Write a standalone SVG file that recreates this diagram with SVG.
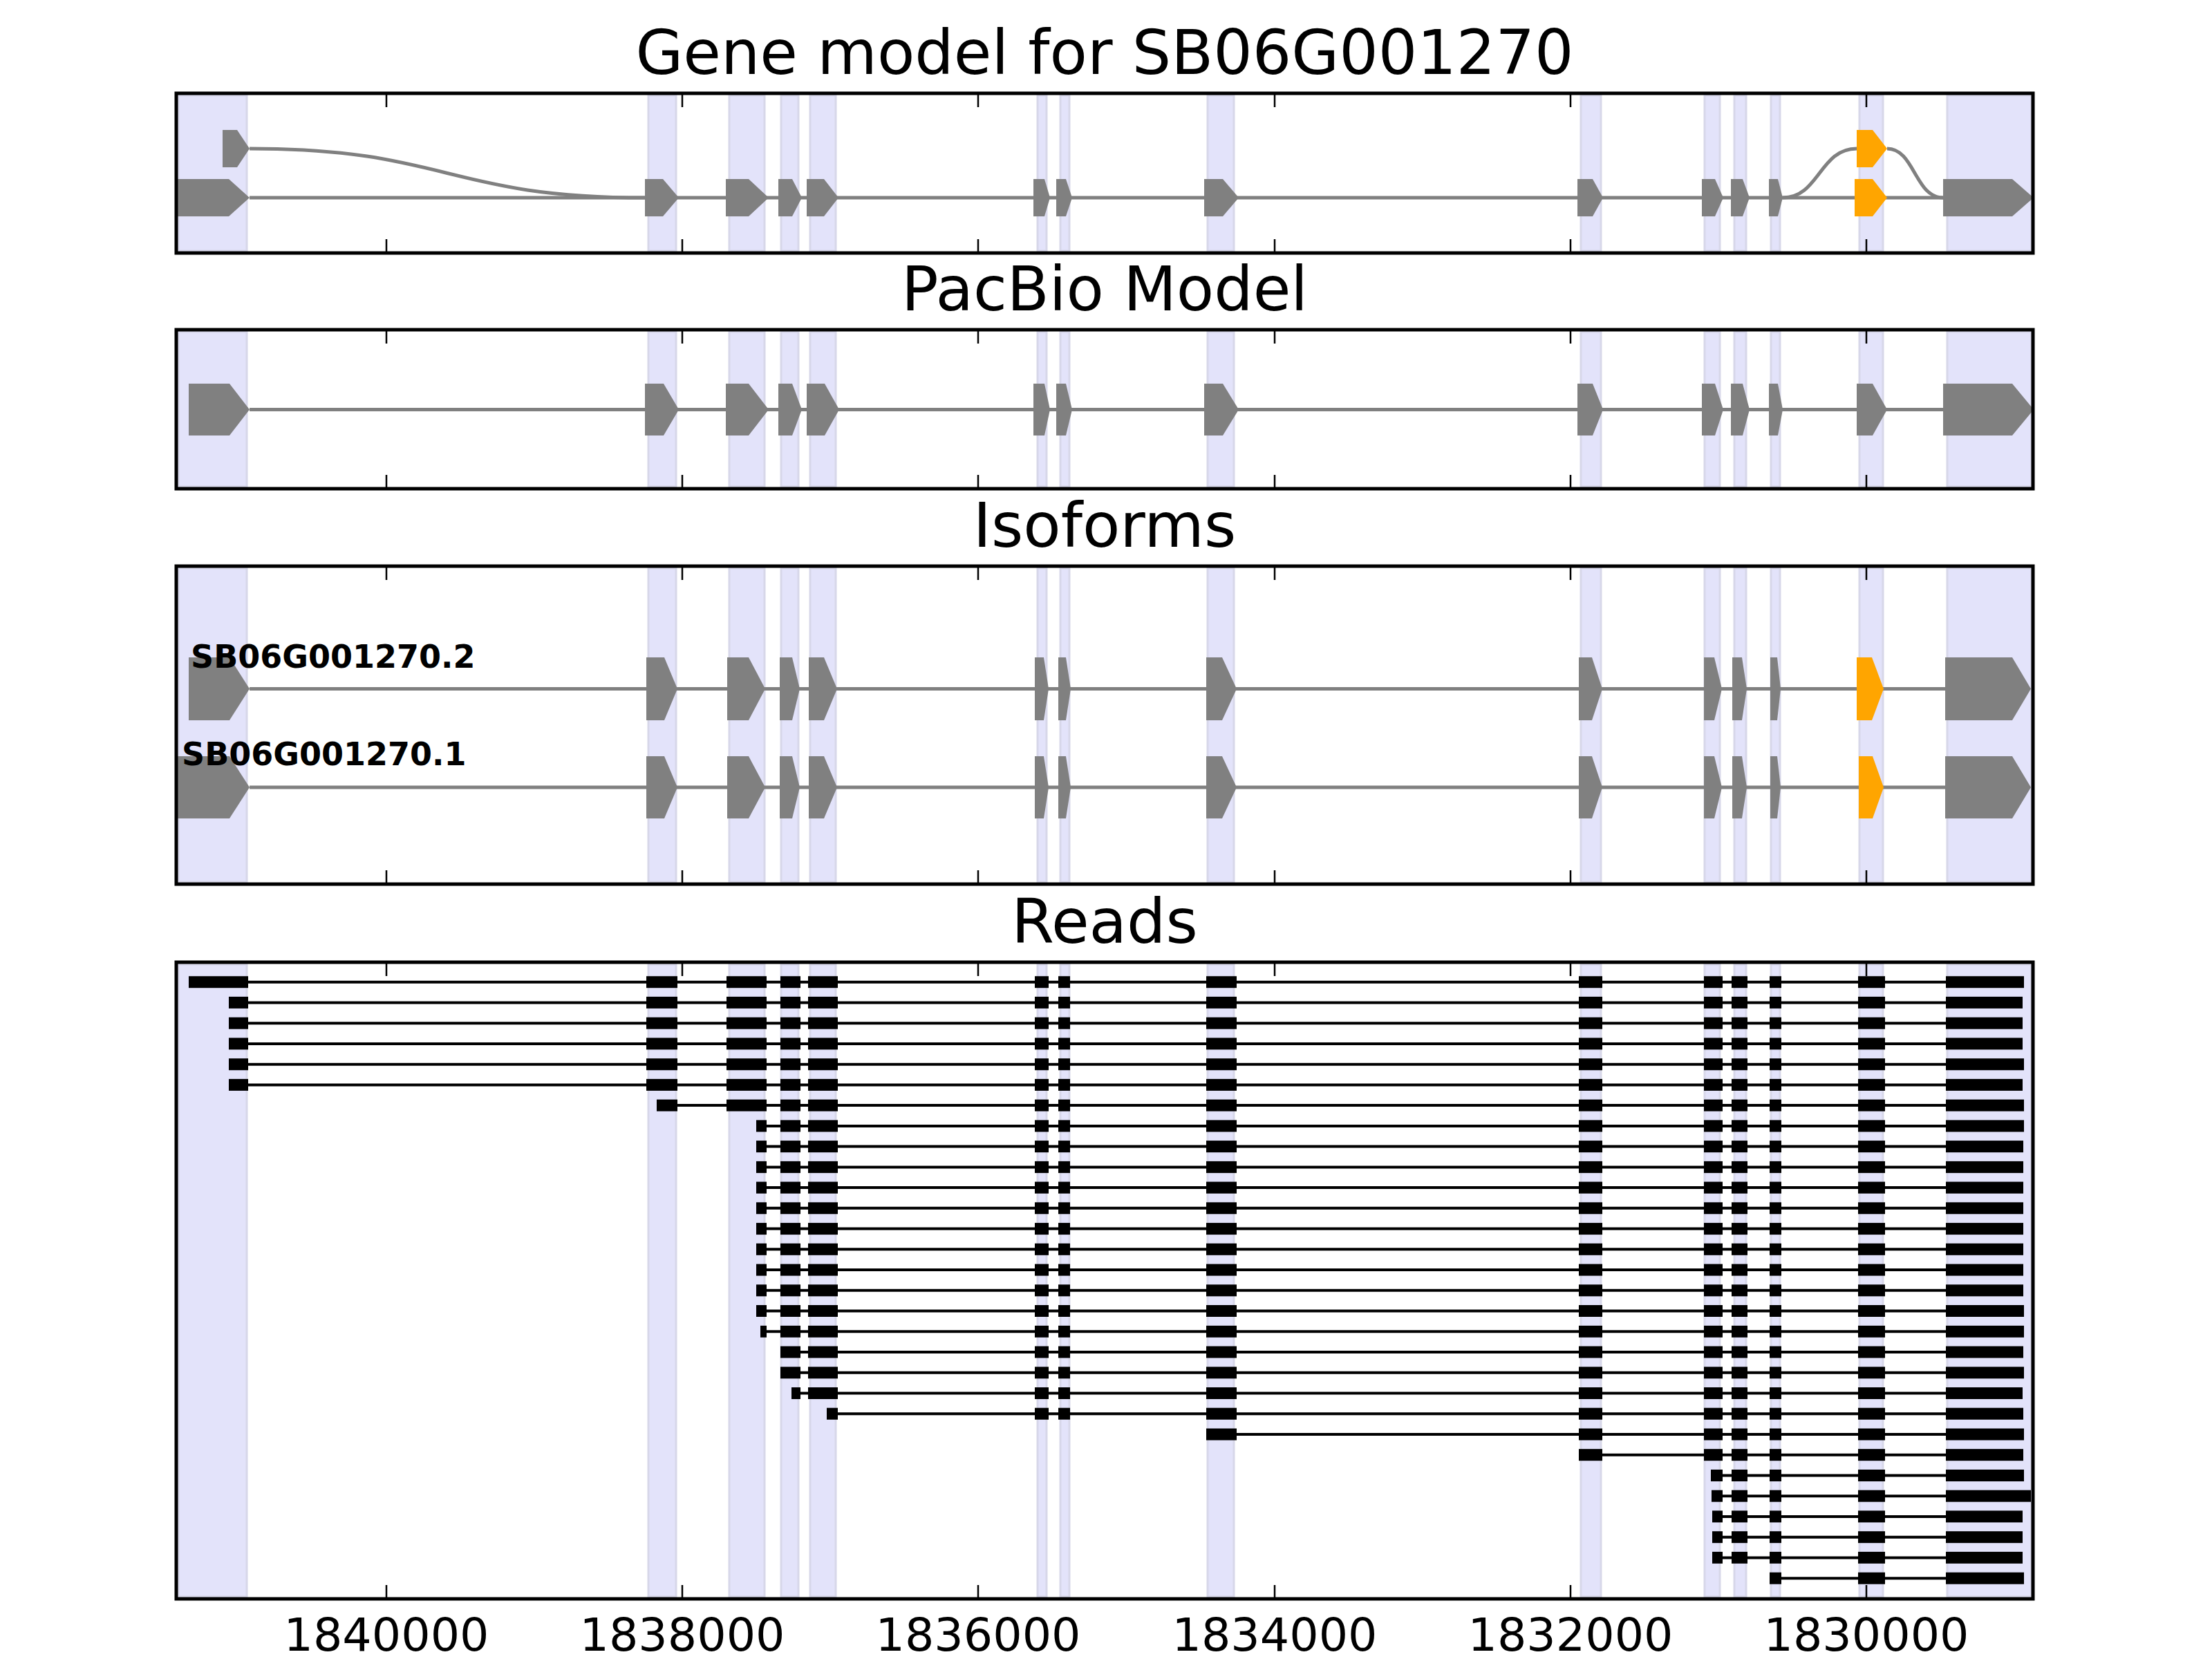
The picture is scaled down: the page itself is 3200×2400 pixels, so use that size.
<svg xmlns="http://www.w3.org/2000/svg" xmlns:xlink="http://www.w3.org/1999/xlink" width="3200" height="2400" viewBox="0 0 3200 2400">
<style>
.band rect{fill:#e3e3fa;stroke:#d7d7e9;stroke-width:3}
.ex{fill:#808080}
.exo{fill:#ffa500}
.intron{stroke:#808080;stroke-width:5;fill:none}
.rl{stroke:#000;stroke-width:4}
.rd{fill:#000}
.frame{fill:none;stroke:#000;stroke-width:5}
.tick{stroke:#000;stroke-width:2.5}
.title{font-family:"DejaVu Sans",sans-serif;font-size:88.9px;text-anchor:middle;fill:#000}
.lab{font-family:"DejaVu Sans",sans-serif;font-size:46px;font-weight:bold;fill:#000}
.tl{font-family:"DejaVu Sans",sans-serif;font-size:66.7px;text-anchor:middle;fill:#000}
</style>
<defs>
<clipPath id="c1"><rect x="255" y="135" width="2686" height="231"/></clipPath>
<clipPath id="c2"><rect x="255" y="477" width="2686" height="230"/></clipPath>
<clipPath id="c3"><rect x="255" y="819" width="2686" height="460"/></clipPath>
<rect id="x2" x="935" y="-8.5" width="45" height="17"/>
<rect id="x3" x="1051" y="-8.5" width="58" height="17"/>
<rect id="x4" x="1129" y="-8.5" width="29" height="17"/>
<rect id="x5" x="1169" y="-8.5" width="43" height="17"/>
<rect id="x6" x="1497" y="-8.5" width="20" height="17"/>
<rect id="x7" x="1531" y="-8.5" width="17" height="17"/>
<rect id="x8" x="1745" y="-8.5" width="44" height="17"/>
<rect id="x9" x="2284" y="-8.5" width="34" height="17"/>
<rect id="x10" x="2465" y="-8.5" width="27" height="17"/>
<rect id="x11" x="2505" y="-8.5" width="23" height="17"/>
<rect id="x12" x="2560" y="-8.5" width="17" height="17"/>
<rect id="x13" x="2688" y="-8.5" width="39" height="17"/>
<g id="t12"><use xlink:href="#x12"/><use xlink:href="#x13"/></g>
<g id="t11"><use xlink:href="#x11"/><use xlink:href="#t12"/></g>
<g id="t9"><use xlink:href="#x9"/><use xlink:href="#x10"/><use xlink:href="#t11"/></g>
<g id="t8"><use xlink:href="#x8"/><use xlink:href="#t9"/></g>
<g id="t6"><use xlink:href="#x6"/><use xlink:href="#x7"/><use xlink:href="#t8"/></g>
<g id="t5"><use xlink:href="#x5"/><use xlink:href="#t6"/></g>
<g id="t4"><use xlink:href="#x4"/><use xlink:href="#t5"/></g>
<g id="t3"><use xlink:href="#x3"/><use xlink:href="#t4"/></g>
<g id="t2"><use xlink:href="#x2"/><use xlink:href="#t3"/></g>
</defs>
<rect width="3200" height="2400" fill="#fff"/>

<!-- Panel 1: Gene model -->
<g id="panel-gene-model">
<g class="band">
<rect x="258" y="138" width="99" height="225"/><rect x="938" y="138" width="40" height="225"/><rect x="1055" y="138" width="51" height="225"/><rect x="1130" y="138" width="25" height="225"/><rect x="1172" y="138" width="37" height="225"/><rect x="1501" y="138" width="13" height="225"/><rect x="1534" y="138" width="13" height="225"/><rect x="1747" y="138" width="38" height="225"/><rect x="2287" y="138" width="29" height="225"/><rect x="2466" y="138" width="22" height="225"/><rect x="2509" y="138" width="17" height="225"/><rect x="2562" y="138" width="13" height="225"/><rect x="2690" y="138" width="34" height="225"/><rect x="2817" y="138" width="122" height="225"/>
</g>
<g id="gm-connectors" clip-path="url(#c1)">
<line class="intron" x1="361" y1="286" x2="2811" y2="286"/>
<path class="intron" d="M361,215 C647,215 647,286 933,286"/>
<path class="intron" d="M2579,286 C2632,286 2632,215 2686,215"/>
<path class="intron" d="M2730,215 C2770,215 2770,286 2811,286"/>
</g>
<g id="gm-exons" clip-path="url(#c1)">
<polygon class="ex" points="322,188 343,188 361,215 343,242 322,242"/>
<polygon class="exo" points="2686,188 2709,188 2730,215 2709,242 2686,242"/>
<polygon class="ex" points="250,259 331,259 361,286 331,313 250,313"/>
<polygon class="ex" points="933,259 959,259 982,286 959,313 933,313"/>
<polygon class="ex" points="1050,259 1083,259 1112,286 1083,313 1050,313"/>
<polygon class="ex" points="1126,259 1146,259 1160,286 1146,313 1126,313"/>
<polygon class="ex" points="1167,259 1192,259 1213,286 1192,313 1167,313"/>
<polygon class="ex" points="1495,259 1511,259 1519,286 1511,313 1495,313"/>
<polygon class="ex" points="1528,259 1542,259 1551,286 1542,313 1528,313"/>
<polygon class="ex" points="1742,259 1769,259 1792,286 1769,313 1742,313"/>
<polygon class="ex" points="2282,259 2304,259 2319,286 2304,313 2282,313"/>
<polygon class="ex" points="2462,259 2481,259 2493,286 2481,313 2462,313"/>
<polygon class="ex" points="2504,259 2521,259 2531,286 2521,313 2504,313"/>
<polygon class="ex" points="2559,259 2572,259 2579,286 2572,313 2559,313"/>
<polygon class="exo" points="2683,259 2709,259 2730,286 2709,313 2683,313"/>
<polygon class="ex" points="2811,259 2911,259 2942,286 2911,313 2811,313"/>
</g>
<rect class="frame" x="255" y="135" width="2686" height="231"/>
<path class="tick" d="M559,135v20M987,135v20M1415,135v20M1844,135v20M2272,135v20M2700,135v20M559,366v-20M987,366v-20M1415,366v-20M1844,366v-20M2272,366v-20M2700,366v-20"/>
<text class="title" x="1598" y="107">Gene model for SB06G001270</text>
</g>

<!-- Panel 2: PacBio Model -->
<g id="panel-pacbio">
<g class="band">
<rect x="258" y="480" width="99" height="224"/><rect x="938" y="480" width="40" height="224"/><rect x="1055" y="480" width="51" height="224"/><rect x="1130" y="480" width="25" height="224"/><rect x="1172" y="480" width="37" height="224"/><rect x="1501" y="480" width="13" height="224"/><rect x="1534" y="480" width="13" height="224"/><rect x="1747" y="480" width="38" height="224"/><rect x="2287" y="480" width="29" height="224"/><rect x="2466" y="480" width="22" height="224"/><rect x="2509" y="480" width="17" height="224"/><rect x="2562" y="480" width="13" height="224"/><rect x="2690" y="480" width="34" height="224"/><rect x="2817" y="480" width="122" height="224"/>
</g>
<g clip-path="url(#c2)">
<line class="intron" x1="361" y1="592.5" x2="2811" y2="592.5"/>
<polygon class="ex" points="273,555 332,555 361,592.5 332,630 273,630"/>
<polygon class="ex" points="933,555 960,555 982,592.5 960,630 933,630"/>
<polygon class="ex" points="1050,555 1083,555 1112,592.5 1083,630 1050,630"/>
<polygon class="ex" points="1126,555 1146,555 1160,592.5 1146,630 1126,630"/>
<polygon class="ex" points="1167,555 1193,555 1214,592.5 1193,630 1167,630"/>
<polygon class="ex" points="1495,555 1511,555 1519,592.5 1511,630 1495,630"/>
<polygon class="ex" points="1528,555 1542,555 1551,592.5 1542,630 1528,630"/>
<polygon class="ex" points="1742,555 1769,555 1792,592.5 1769,630 1742,630"/>
<polygon class="ex" points="2282,555 2304,555 2319,592.5 2304,630 2282,630"/>
<polygon class="ex" points="2462,555 2481,555 2493,592.5 2481,630 2462,630"/>
<polygon class="ex" points="2504,555 2521,555 2531,592.5 2521,630 2504,630"/>
<polygon class="ex" points="2559,555 2572,555 2579,592.5 2572,630 2559,630"/>
<polygon class="ex" points="2686,555 2709,555 2730,592.5 2709,630 2686,630"/>
<polygon class="ex" points="2811,555 2911,555 2942,592.5 2911,630 2811,630"/>
</g>
<rect class="frame" x="255" y="477" width="2686" height="230"/>
<path class="tick" d="M559,477v20M987,477v20M1415,477v20M1844,477v20M2272,477v20M2700,477v20M559,707v-20M987,707v-20M1415,707v-20M1844,707v-20M2272,707v-20M2700,707v-20"/>
<text class="title" x="1598" y="449">PacBio Model</text>
</g>

<!-- Panel 3: Isoforms -->
<g id="panel-isoforms">
<g class="band">
<rect x="258" y="822" width="99" height="454"/><rect x="938" y="822" width="40" height="454"/><rect x="1055" y="822" width="51" height="454"/><rect x="1130" y="822" width="25" height="454"/><rect x="1172" y="822" width="37" height="454"/><rect x="1501" y="822" width="13" height="454"/><rect x="1534" y="822" width="13" height="454"/><rect x="1747" y="822" width="38" height="454"/><rect x="2287" y="822" width="29" height="454"/><rect x="2466" y="822" width="22" height="454"/><rect x="2509" y="822" width="17" height="454"/><rect x="2562" y="822" width="13" height="454"/><rect x="2690" y="822" width="34" height="454"/><rect x="2817" y="822" width="122" height="454"/>
</g>
<g id="iso-2" clip-path="url(#c3)">
<line class="intron" x1="361" y1="996.5" x2="2814" y2="996.5"/>
<polygon class="ex" points="273,951 332,951 361,996.5 332,1042 273,1042"/>
<polygon class="ex" points="935,951 961,951 980,996.5 961,1042 935,1042"/>
<polygon class="ex" points="1052,951 1083,951 1107,996.5 1083,1042 1052,1042"/>
<polygon class="ex" points="1128,951 1146,951 1157,996.5 1146,1042 1128,1042"/>
<polygon class="ex" points="1170,951 1192,951 1211,996.5 1192,1042 1170,1042"/>
<polygon class="ex" points="1497,951 1510,951 1517,996.5 1510,1042 1497,1042"/>
<polygon class="ex" points="1531,951 1542,951 1549,996.5 1542,1042 1531,1042"/>
<polygon class="ex" points="1745,951 1768,951 1789,996.5 1768,1042 1745,1042"/>
<polygon class="ex" points="2284,951 2303,951 2318,996.5 2303,1042 2284,1042"/>
<polygon class="ex" points="2465,951 2480,951 2491,996.5 2480,1042 2465,1042"/>
<polygon class="ex" points="2506,951 2520,951 2527,996.5 2520,1042 2506,1042"/>
<polygon class="ex" points="2561,951 2571,951 2576,996.5 2571,1042 2561,1042"/>
<polygon class="exo" points="2686,951 2708,951 2725,996.5 2708,1042 2686,1042"/>
<polygon class="ex" points="2814,951 2911,951 2938,996.5 2911,1042 2814,1042"/>
<text class="lab" x="276" y="966">SB06G001270.2</text>
</g>
<g id="iso-1" clip-path="url(#c3)">
<line class="intron" x1="361" y1="1139" x2="2814" y2="1139"/>
<polygon class="ex" points="250,1094 332,1094 361,1139 332,1184 250,1184"/>
<polygon class="ex" points="935,1094 961,1094 980,1139 961,1184 935,1184"/>
<polygon class="ex" points="1052,1094 1083,1094 1107,1139 1083,1184 1052,1184"/>
<polygon class="ex" points="1128,1094 1146,1094 1157,1139 1146,1184 1128,1184"/>
<polygon class="ex" points="1170,1094 1192,1094 1211,1139 1192,1184 1170,1184"/>
<polygon class="ex" points="1497,1094 1510,1094 1517,1139 1510,1184 1497,1184"/>
<polygon class="ex" points="1531,1094 1542,1094 1549,1139 1542,1184 1531,1184"/>
<polygon class="ex" points="1745,1094 1768,1094 1789,1139 1768,1184 1745,1184"/>
<polygon class="ex" points="2284,1094 2303,1094 2318,1139 2303,1184 2284,1184"/>
<polygon class="ex" points="2465,1094 2480,1094 2491,1139 2480,1184 2465,1184"/>
<polygon class="ex" points="2506,1094 2520,1094 2527,1139 2520,1184 2506,1184"/>
<polygon class="ex" points="2561,1094 2571,1094 2576,1139 2571,1184 2561,1184"/>
<polygon class="exo" points="2689,1094 2709,1094 2725,1139 2709,1184 2689,1184"/>
<polygon class="ex" points="2814,1094 2911,1094 2938,1139 2911,1184 2814,1184"/>
<text class="lab" x="263" y="1107">SB06G001270.1</text>
</g>
<rect class="frame" x="255" y="819" width="2686" height="460"/>
<path class="tick" d="M559,819v20M987,819v20M1415,819v20M1844,819v20M2272,819v20M2700,819v20M559,1279v-20M987,1279v-20M1415,1279v-20M1844,1279v-20M2272,1279v-20M2700,1279v-20"/>
<text class="title" x="1598" y="791">Isoforms</text>
</g>

<!-- Panel 4: Reads -->
<g id="panel-reads">
<g class="band">
<rect x="258" y="1395" width="99" height="915"/><rect x="938" y="1395" width="40" height="915"/><rect x="1055" y="1395" width="51" height="915"/><rect x="1130" y="1395" width="25" height="915"/><rect x="1172" y="1395" width="37" height="915"/><rect x="1501" y="1395" width="13" height="915"/><rect x="1534" y="1395" width="13" height="915"/><rect x="1747" y="1395" width="38" height="915"/><rect x="2287" y="1395" width="29" height="915"/><rect x="2466" y="1395" width="22" height="915"/><rect x="2509" y="1395" width="17" height="915"/><rect x="2562" y="1395" width="13" height="915"/><rect x="2690" y="1395" width="34" height="915"/><rect x="2817" y="1395" width="122" height="915"/>
</g>
<g id="reads" class="rd">
<g id="read-1" transform="translate(0,1420.7)"><line class="rl" x1="273" y1="0" x2="2928" y2="0"/><rect x="273" y="-8.5" width="86" height="17"/><use xlink:href="#t2"/><rect x="2815" y="-8.5" width="113" height="17"/></g>
<g id="read-2" transform="translate(0,1450.4)"><line class="rl" x1="331" y1="0" x2="2926" y2="0"/><rect x="331" y="-8.5" width="28" height="17"/><use xlink:href="#t2"/><rect x="2815" y="-8.5" width="111" height="17"/></g>
<g id="read-3" transform="translate(0,1480.2)"><line class="rl" x1="331" y1="0" x2="2926" y2="0"/><rect x="331" y="-8.5" width="28" height="17"/><use xlink:href="#t2"/><rect x="2815" y="-8.5" width="111" height="17"/></g>
<g id="read-4" transform="translate(0,1509.9)"><line class="rl" x1="331" y1="0" x2="2926" y2="0"/><rect x="331" y="-8.5" width="28" height="17"/><use xlink:href="#t2"/><rect x="2815" y="-8.5" width="111" height="17"/></g>
<g id="read-5" transform="translate(0,1539.7)"><line class="rl" x1="331" y1="0" x2="2928" y2="0"/><rect x="331" y="-8.5" width="28" height="17"/><use xlink:href="#t2"/><rect x="2815" y="-8.5" width="113" height="17"/></g>
<g id="read-6" transform="translate(0,1569.4)"><line class="rl" x1="331" y1="0" x2="2926" y2="0"/><rect x="331" y="-8.5" width="28" height="17"/><use xlink:href="#t2"/><rect x="2815" y="-8.5" width="111" height="17"/></g>
<g id="read-7" transform="translate(0,1599.1)"><line class="rl" x1="950" y1="0" x2="2928" y2="0"/><rect x="950" y="-8.5" width="30" height="17"/><use xlink:href="#t3"/><rect x="2815" y="-8.5" width="113" height="17"/></g>
<g id="read-8" transform="translate(0,1628.9)"><line class="rl" x1="1094" y1="0" x2="2928" y2="0"/><rect x="1094" y="-8.5" width="15" height="17"/><use xlink:href="#t4"/><rect x="2815" y="-8.5" width="113" height="17"/></g>
<g id="read-9" transform="translate(0,1658.6)"><line class="rl" x1="1094" y1="0" x2="2927" y2="0"/><rect x="1094" y="-8.5" width="15" height="17"/><use xlink:href="#t4"/><rect x="2815" y="-8.5" width="112" height="17"/></g>
<g id="read-10" transform="translate(0,1688.4)"><line class="rl" x1="1094" y1="0" x2="2927" y2="0"/><rect x="1094" y="-8.5" width="15" height="17"/><use xlink:href="#t4"/><rect x="2815" y="-8.5" width="112" height="17"/></g>
<g id="read-11" transform="translate(0,1718.1)"><line class="rl" x1="1094" y1="0" x2="2927" y2="0"/><rect x="1094" y="-8.5" width="15" height="17"/><use xlink:href="#t4"/><rect x="2815" y="-8.5" width="112" height="17"/></g>
<g id="read-12" transform="translate(0,1747.8)"><line class="rl" x1="1094" y1="0" x2="2927" y2="0"/><rect x="1094" y="-8.5" width="15" height="17"/><use xlink:href="#t4"/><rect x="2815" y="-8.5" width="112" height="17"/></g>
<g id="read-13" transform="translate(0,1777.6)"><line class="rl" x1="1094" y1="0" x2="2927" y2="0"/><rect x="1094" y="-8.5" width="15" height="17"/><use xlink:href="#t4"/><rect x="2815" y="-8.5" width="112" height="17"/></g>
<g id="read-14" transform="translate(0,1807.3)"><line class="rl" x1="1094" y1="0" x2="2927" y2="0"/><rect x="1094" y="-8.5" width="15" height="17"/><use xlink:href="#t4"/><rect x="2815" y="-8.5" width="112" height="17"/></g>
<g id="read-15" transform="translate(0,1837.1)"><line class="rl" x1="1094" y1="0" x2="2927" y2="0"/><rect x="1094" y="-8.5" width="15" height="17"/><use xlink:href="#t4"/><rect x="2815" y="-8.5" width="112" height="17"/></g>
<g id="read-16" transform="translate(0,1866.8)"><line class="rl" x1="1094" y1="0" x2="2927" y2="0"/><rect x="1094" y="-8.5" width="15" height="17"/><use xlink:href="#t4"/><rect x="2815" y="-8.5" width="112" height="17"/></g>
<g id="read-17" transform="translate(0,1896.5)"><line class="rl" x1="1094" y1="0" x2="2928" y2="0"/><rect x="1094" y="-8.5" width="15" height="17"/><use xlink:href="#t4"/><rect x="2815" y="-8.5" width="113" height="17"/></g>
<g id="read-18" transform="translate(0,1926.3)"><line class="rl" x1="1100" y1="0" x2="2928" y2="0"/><rect x="1100" y="-8.5" width="9" height="17"/><use xlink:href="#t4"/><rect x="2815" y="-8.5" width="113" height="17"/></g>
<g id="read-19" transform="translate(0,1956.0)"><line class="rl" x1="1129" y1="0" x2="2927" y2="0"/><use xlink:href="#t4"/><rect x="2815" y="-8.5" width="112" height="17"/></g>
<g id="read-20" transform="translate(0,1985.8)"><line class="rl" x1="1129" y1="0" x2="2928" y2="0"/><use xlink:href="#t4"/><rect x="2815" y="-8.5" width="113" height="17"/></g>
<g id="read-21" transform="translate(0,2015.5)"><line class="rl" x1="1145" y1="0" x2="2926" y2="0"/><rect x="1145" y="-8.5" width="13" height="17"/><use xlink:href="#t5"/><rect x="2815" y="-8.5" width="111" height="17"/></g>
<g id="read-22" transform="translate(0,2045.2)"><line class="rl" x1="1196" y1="0" x2="2927" y2="0"/><rect x="1196" y="-8.5" width="16" height="17"/><use xlink:href="#t6"/><rect x="2815" y="-8.5" width="112" height="17"/></g>
<g id="read-23" transform="translate(0,2075.0)"><line class="rl" x1="1745" y1="0" x2="2928" y2="0"/><use xlink:href="#t8"/><rect x="2815" y="-8.5" width="113" height="17"/></g>
<g id="read-24" transform="translate(0,2104.7)"><line class="rl" x1="2285" y1="0" x2="2927" y2="0"/><use xlink:href="#t9"/><rect x="2815" y="-8.5" width="112" height="17"/></g>
<g id="read-25" transform="translate(0,2134.5)"><line class="rl" x1="2475" y1="0" x2="2928" y2="0"/><rect x="2475" y="-8.5" width="17" height="17"/><use xlink:href="#t11"/><rect x="2815" y="-8.5" width="113" height="17"/></g>
<g id="read-26" transform="translate(0,2164.2)"><line class="rl" x1="2476" y1="0" x2="2938" y2="0"/><rect x="2476" y="-8.5" width="16" height="17"/><use xlink:href="#t11"/><rect x="2815" y="-8.5" width="123" height="17"/></g>
<g id="read-27" transform="translate(0,2193.9)"><line class="rl" x1="2477" y1="0" x2="2926" y2="0"/><rect x="2477" y="-8.5" width="15" height="17"/><use xlink:href="#t11"/><rect x="2815" y="-8.5" width="111" height="17"/></g>
<g id="read-28" transform="translate(0,2223.7)"><line class="rl" x1="2477" y1="0" x2="2926" y2="0"/><rect x="2477" y="-8.5" width="15" height="17"/><use xlink:href="#t11"/><rect x="2815" y="-8.5" width="111" height="17"/></g>
<g id="read-29" transform="translate(0,2253.4)"><line class="rl" x1="2477" y1="0" x2="2926" y2="0"/><rect x="2477" y="-8.5" width="15" height="17"/><use xlink:href="#t11"/><rect x="2815" y="-8.5" width="111" height="17"/></g>
<g id="read-30" transform="translate(0,2283.2)"><line class="rl" x1="2560" y1="0" x2="2928" y2="0"/><use xlink:href="#t12"/><rect x="2815" y="-8.5" width="113" height="17"/></g>
</g>
<rect class="frame" x="255" y="1392" width="2686" height="921"/>
<path class="tick" d="M559,1392v20M987,1392v20M1415,1392v20M1844,1392v20M2272,1392v20M2700,1392v20M559,2313v-20M987,2313v-20M1415,2313v-20M1844,2313v-20M2272,2313v-20M2700,2313v-20"/>
<text class="title" x="1598" y="1364">Reads</text>
<g id="x-axis-labels">
<text class="tl" x="559" y="2388">1840000</text>
<text class="tl" x="987" y="2388">1838000</text>
<text class="tl" x="1415" y="2388">1836000</text>
<text class="tl" x="1844" y="2388">1834000</text>
<text class="tl" x="2272" y="2388">1832000</text>
<text class="tl" x="2700" y="2388">1830000</text>
</g>
</g>
</svg>
